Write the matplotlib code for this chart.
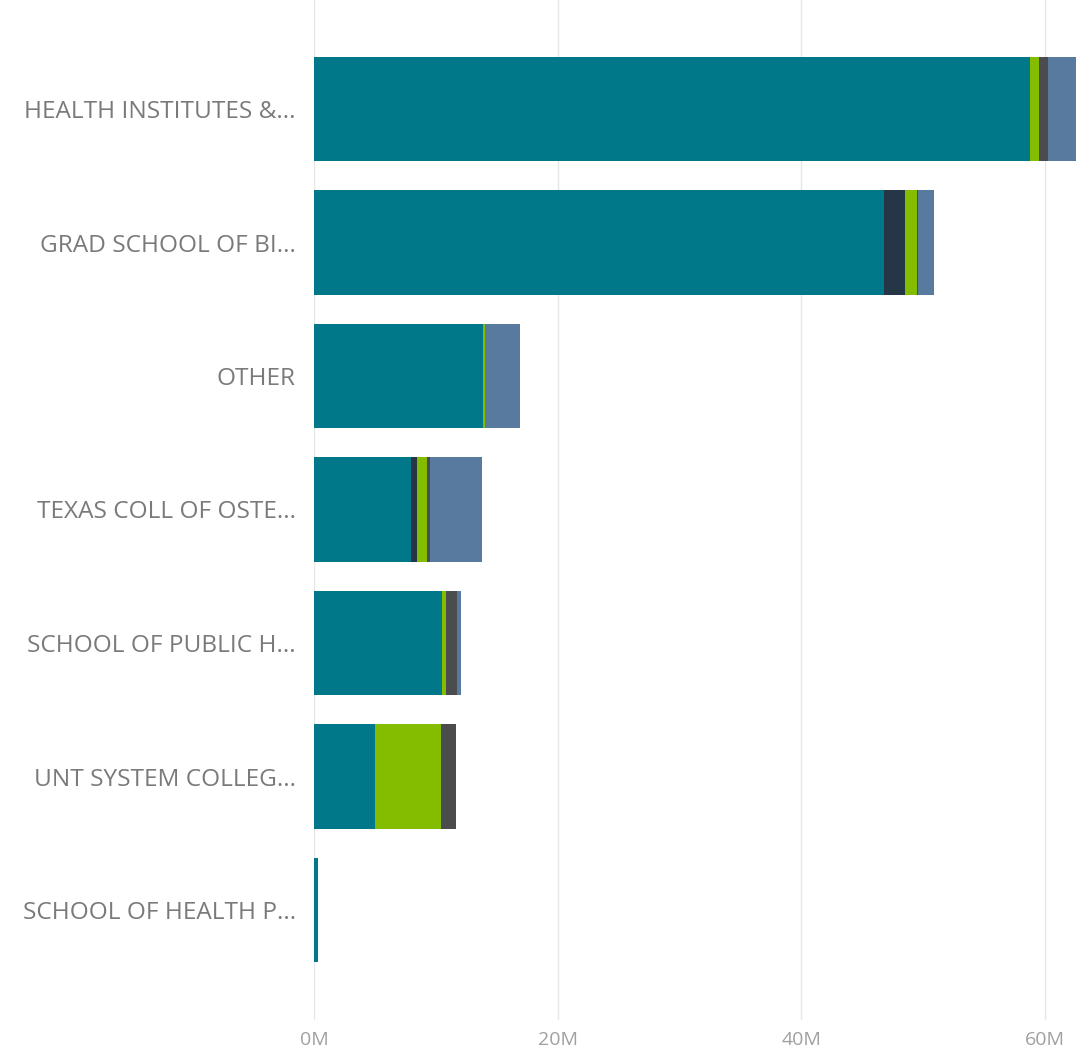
import matplotlib
matplotlib.use("Agg")
import matplotlib.pyplot as plt
import numpy as np

categories = ["HEALTH INSTITUTES &...", "GRAD SCHOOL OF BI...", "OTHER",
              "TEXAS COLL OF OSTE...", "SCHOOL OF PUBLIC H...",
              "UNT SYSTEM COLLEG...", "SCHOOL OF HEALTH P..."]
# values in millions, stacked left-to-right
series_a = [58.8, 46.75, 13.9, 8.0, 10.48, 4.98, 0.35]   # teal
series_b = [0.0, 1.78, 0.0, 0.46, 0.0, 0.0, 0.0]         # navy
series_c = [0.7, 1.0, 0.1, 0.8, 0.33, 5.48, 0.0]         # green
series_d = [0.74, 0.05, 0.0, 0.25, 0.96, 1.23, 0.0]      # dark gray
series_e = [2.3, 1.3, 2.87, 4.3, 0.33, 0.0, 0.0]         # steel blue
colors = ["#01778A", "#253746", "#84BD00", "#4B4C4E", "#587A9E"]
xticks = [0, 20, 40, 60]
xtick_labels = ["0M", "20M", "40M", "60M"]

W, H = 1089, 1049
fig = plt.figure(figsize=(W / 100, H / 100), dpi=100)
ax_left, ax_right = 314, 1089
ax_top, ax_bot = 0, 1020
ax = fig.add_axes([ax_left / W, 1 - ax_bot / H, (ax_right - ax_left) / W, (ax_bot - ax_top) / H])

px_per_m = (1045 - 314) / 60.0
y = np.arange(len(categories))
left = np.zeros(len(categories))
for vals, col in zip([series_a, series_b, series_c, series_d, series_e], colors):
    v = np.array(vals)
    ax.barh(y, v, left=left, height=0.78, color=col, edgecolor="none", zorder=3)
    left += v

ax.set_xlim(0, (ax_right - ax_left) / px_per_m)
first_c, spacing = 109, 133.5
ax.set_ylim((ax_bot - first_c) / spacing, (ax_top - first_c) / spacing)

ax.set_yticks(y)
ax.set_yticklabels(categories, fontsize=17.6, color="#7a7a7a", family="Open Sans")
ax.set_xticks(xticks)
ax.set_xticklabels(xtick_labels, fontsize=14, color="#a0a0a0", family="Open Sans")
ax.tick_params(axis="both", length=0)
ax.tick_params(axis="y", pad=13)
ax.tick_params(axis="x", pad=8)
ax.grid(axis="x", color="#e6e6e6", linewidth=1, zorder=0)
for s in ax.spines.values():
    s.set_visible(False)

fig.savefig("out.png", dpi=100)
